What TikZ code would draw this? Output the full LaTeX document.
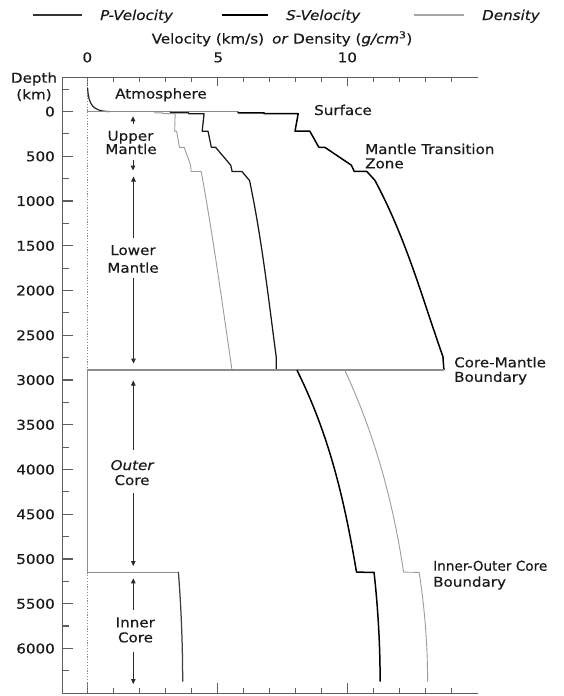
\documentclass[tikz,border=0pt]{standalone}
\usepackage{fontspec}
\setmainfont{DejaVu Sans}[FakeStretch=1.12, FakeBold=0.35, ItalicFont=DejaVu Sans Oblique]
\usepackage{graphicx}
\usetikzlibrary{arrows.meta}
\definecolor{txt}{HTML}{1A1A1A}
\definecolor{axisc}{HTML}{5E5E5E}
\definecolor{bndc}{HTML}{8C8C8C}
\definecolor{densc}{HTML}{9C9C9C}
\definecolor{arrc}{HTML}{2A2A2A}
\begin{document}
\begin{tikzpicture}[x=1pt,y=-1pt,
  every node/.style={font=\fontsize{13.5}{14}\selectfont, text=txt, inner sep=0pt},
  lb/.style={anchor=base},
  lw/.style={anchor=base west},
  le/.style={anchor=base east},
  pvel/.style={draw=black, line width=1.5pt, line join=round},
  svel/.style={draw=black!90, line width=1.25pt, line join=round},
  dens/.style={draw=densc, line width=0.9pt, line join=round},
  bnd/.style={draw=bndc, line width=1.5pt},
  axisline/.style={draw=axisc, line width=1.4pt},
  tickline/.style={draw=axisc, line width=1.2pt},
  dotl/.style={draw=bndc, line width=1.4pt, dash pattern=on 1.2pt off 1.6pt},
  regarrow/.style={draw=arrc, line width=1pt, -{Triangle[length=5pt,width=4.5pt]}},
  atm/.style={draw=black!85, line width=1.2pt}
]
\useasboundingbox (0,0) rectangle (564,696);
\fill[white] (0,0) rectangle (564,696);

% ---------------- legend ----------------
\draw[draw=black!80, line width=1.3pt] (33,15) -- (82,15);
\node[lw] (lp) at (100,20) {\textit{P-Velocity}};
\draw[draw=black, line width=1.3pt] (222,15) -- (268,15);
\node[lw] (ls) at (286,20) {\textit{S-Velocity}};
\draw[draw=black!35, line width=1.3pt] (414,15) -- (464,15);
\node[lw] (ld) at (482,20) {\textit{Density}};

% ---------------- axis title and labels ----------------
\node[lb] (title) at (282,43.5) {Velocity (km/s)\hspace{0.6em}\textit{or} Density (\textit{g/cm}\textsuperscript{3})};
\node[lb] (x0) at (87.3,62.3) {0};
\node[lb] (x5) at (218.3,62.3) {5};
\node[lb] (x10) at (347.3,62.3) {10};

% ---------------- axes ----------------
\draw[axisline] (478,77.3) -- (62.5,77.3) -- (62.5,693.3) -- (478,693.3);
\foreach \k in {0,...,14} {
  \draw[tickline] ({87.3+26*\k},77.3) -- ++(0,4.5);
  \draw[tickline] ({87.3+26*\k},693.3) -- ++(0,-5);
}
\foreach \k in {0,5,10} {
  \draw[tickline] ({87.3+26*\k},77.3) -- ++(0,9);
  \draw[tickline] ({87.3+26*\k},693.3) -- ++(0,-10);
}
\foreach \d in {0,500,...,6000} {
  \draw[tickline] (62.5,{111.5+0.0895*\d}) -- ++(10,0);
  \node[le] (dl\d) at (55,{111.5+0.0895*\d+5}) {\d};
}
\foreach \d in {-250,250,...,6250} {
  \draw[tickline] (62.5,{111.5+0.0895*\d}) -- ++(6,0);
}
\node[lb] (depth) at (34,82.7) {Depth};
\node[lb] (km) at (34,99.3) {(km)};

% ---------------- zero line (dotted) ----------------
\draw[dotl] (87.3,78.5) -- (87.3,370.24);
\draw[dotl] (87.3,572.38) -- (87.3,692.3);

% ---------------- atmosphere and surface ----------------
\draw[atm] (87.6,88) .. controls (88.6,104) and (92,111.5) .. (110,111.5);
\draw[bndc, line width=1.2pt] (87.3,111.5) -- (238.1,111.5);

% ---------------- mantle: P ----------------
\draw[pvel] (238.1,111.5) -- (238.1,112.84) -- (264.1,112.84) -- (264.1,113.68)
  -- (298.2,113.68) -- (295.0,131.19) -- (309.83,131.19) -- (318.84,147.3)
  -- (324.78,147.3) -- (351.40,165.2) -- (354.22,171.47) -- (366.84,171.47)
  -- (375.01,180.5)
  -- plot[domain=0.878983:0.569769, samples=40, variable=\t]
     ({87.3+26*(24.9520-40.4673*\t+51.4832*\t*\t-26.6419*\t*\t*\t)}, {111.5+570.2*(1-\t)})
  -- (443.93,370.24);

% ---------------- mantle: S ----------------
\draw[svel] (170.5,111.5) -- (170.5,112.84) -- (188.7,112.84) -- (188.7,113.68)
  -- (204.07,113.68) -- (202.19,131.19) -- (208.04,131.19) -- (211.32,147.3)
  -- (215.55,147.3) -- (230.71,165.2) -- (232.12,171.47) -- (241.88,171.47)
  -- (249.55,180.5)
  -- plot[domain=0.878983:0.569769, samples=40, variable=\t]
     ({87.3+26*(11.1671-13.7818*\t+17.4575*\t*\t-9.2777*\t*\t*\t)}, {111.5+570.2*(1-\t)})
  -- (276.18,370.24);

% ---------------- mantle: density ----------------
\draw[dens] (154.9,111.5) -- (154.9,112.84) -- (162.7,112.84) -- (162.7,113.68)
  -- (175.2,113.68) -- (174.65,131.19) -- (176.63,131.19) -- (179.43,147.3)
  -- (184.12,147.3) -- (190.67,165.2) -- (191.09,171.47) -- (201.2,171.47)
  -- (202.82,180.5)
  -- plot[domain=0.878983:0.569769, samples=40, variable=\t]
     ({87.3+26*(7.9565-6.4761*\t+5.5283*\t*\t-3.0807*\t*\t*\t)}, {111.5+570.2*(1-\t)})
  -- (232.03,370.24);

% ---------------- boundaries ----------------
\draw[bnd] (87.3,370.24) -- (443.93,370.24);
\draw[bnd] (87.3,370.24) -- (87.3,572.38) -- (178.41,572.38);

% ---------------- core: P ----------------
\draw[pvel] (296.98,370.24)
  -- plot[domain=0.546225:0.191728, samples=40, variable=\t]
     ({87.3+26*(11.0487-4.0362*\t+4.8023*\t*\t-13.5732*\t*\t*\t)}, {111.5+570.2*(1-\t)})
  -- (374.04,572.38)
  -- plot[domain=0.191728:0, samples=20, variable=\t]
     ({87.3+26*(11.2622-6.3640*\t*\t)}, {111.5+570.2*(1-\t)});

% ---------------- core: density ----------------
\draw[dens] (344.79,370.24)
  -- plot[domain=0.546225:0.191728, samples=40, variable=\t]
     ({87.3+26*(12.5815-1.2638*\t-3.6426*\t*\t-5.5281*\t*\t*\t)}, {111.5+570.2*(1-\t)})
  -- (419.15,572.38)
  -- plot[domain=0.191728:0, samples=20, variable=\t]
     ({87.3+26*(13.0885-8.8381*\t*\t)}, {111.5+570.2*(1-\t)});

% ---------------- inner core: S ----------------
\draw[svel, draw=black!75] (178.41,572.38)
  -- plot[domain=0.191728:0, samples=20, variable=\t]
     ({87.3+26*(3.6678-4.4475*\t*\t)}, {111.5+570.2*(1-\t)});

% ---------------- right-hand labels ----------------
\node[lw] (atmo) at (115,98.5) {Atmosphere};
\node[lw] (surf) at (314,115) {Surface};
\node[lw] (mtz1) at (365,154) {Mantle Transition};
\node[lw] (mtz2) at (365,168.3) {Zone};
\node[lw] (cmb1) at (454,367.3) {Core-Mantle};
\node[lw] (cmb2) at (454,381.8) {Boundary};
\node[lw] (icb1) at (433,570.7) {\scalebox{0.9}[1]{Inner-Outer Core}};
\node[lw] (icb2) at (433,586.7) {Boundary};

% ---------------- region labels with arrows ----------------
\node[lb] (um1) at (130.5,140.7) {Upper};
\node[lb] (um2) at (131,154) {Mantle};
\coordinate (umt) at (133,116.3);
\coordinate (umtb) at (133,124);
\coordinate (umb) at (133,170.5);
\coordinate (umbt) at (133,159.5);
\draw[regarrow] (umtb) -- (umt);
\draw[regarrow] (umbt) -- (umb);

\node[lb] (lm1) at (133,255) {Lower};
\node[lb] (lm2) at (133,272.7) {Mantle};
\coordinate (lmt) at (133.5,176.5);
\coordinate (lmtb) at (133.5,238);
\coordinate (lmb) at (133.5,363.5);
\coordinate (lmbt) at (133.5,278);
\draw[regarrow] (lmtb) -- (lmt);
\draw[regarrow] (lmbt) -- (lmb);

\node[lb] (oc1) at (132.5,470) {\textit{Outer}};
\node[lb] (oc2) at (132,485) {Core};
\coordinate (oct) at (133.3,380.5);
\coordinate (octb) at (133.3,450);
\coordinate (ocb) at (133.3,566);
\coordinate (ocbt) at (133.3,493);
\draw[regarrow] (octb) -- (oct);
\draw[regarrow] (ocbt) -- (ocb);

\node[lb] (ic1) at (135.3,627.3) {Inner};
\node[lb] (ic2) at (135.5,642.3) {Core};
\coordinate (ict) at (133.3,578.3);
\coordinate (ictb) at (133.3,610);
\coordinate (icb) at (133.3,684);
\coordinate (icbt) at (133.3,651.7);
\draw[regarrow] (ictb) -- (ict);
\draw[regarrow] (icbt) -- (icb);
\end{tikzpicture}
\end{document}
